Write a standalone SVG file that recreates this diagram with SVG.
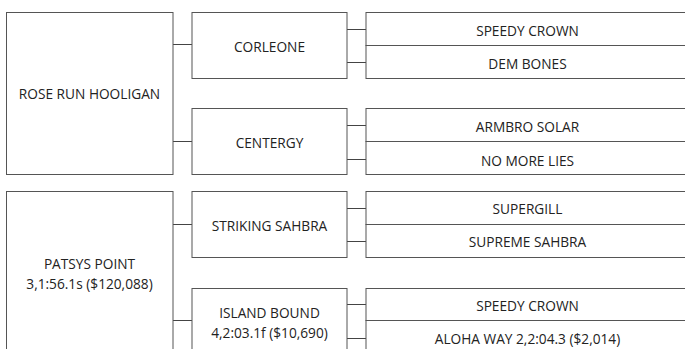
<svg xmlns="http://www.w3.org/2000/svg" width="685" height="349" viewBox="0 0 685 349">
<style>
.b{fill:#fff;stroke:#555;stroke-width:1}
.c line{stroke:#444;stroke-width:1}
text{font-family:"Open Sans","Noto Sans","Liberation Sans",sans-serif;font-size:13.7px;fill:#222;text-anchor:middle}
</style>
<rect width="685" height="349" fill="#fff"/>
<g class="c" id="connectors">
<line x1="173" y1="44.5" x2="192" y2="44.5"/>
<line x1="173" y1="141.5" x2="192" y2="141.5"/>
<line x1="347" y1="29.5" x2="366" y2="29.5"/>
<line x1="347" y1="62.5" x2="366" y2="62.5"/>
<line x1="347" y1="125.5" x2="366" y2="125.5"/>
<line x1="347" y1="159.5" x2="366" y2="159.5"/>
<line x1="173" y1="224.5" x2="192" y2="224.5"/>
<line x1="173" y1="320.5" x2="192" y2="320.5"/>
<line x1="347" y1="208.5" x2="366" y2="208.5"/>
<line x1="347" y1="241.5" x2="366" y2="241.5"/>
<line x1="347" y1="304.5" x2="366" y2="304.5"/>
<line x1="347" y1="338.5" x2="366" y2="338.5"/>
</g>
<g id="rose-run-hooligan"><rect class="b" x="6.5" y="12.5" width="166.5" height="162"/><text x="89.5" y="99">ROSE RUN HOOLIGAN</text></g>
<g id="corleone"><rect class="b" x="192" y="12.5" width="155" height="66"/><text x="269.5" y="52">CORLEONE</text></g>
<g id="centergy"><rect class="b" x="192" y="108.5" width="155" height="66"/><text x="269.5" y="148">CENTERGY</text></g>
<g id="speedy-crown-1"><rect class="b" x="366" y="12.5" width="324" height="33"/><text x="527.5" y="35.5">SPEEDY CROWN</text></g>
<g id="dem-bones"><rect class="b" x="366" y="45.5" width="324" height="33"/><text x="527.5" y="68.5">DEM BONES</text></g>
<g id="armbro-solar"><rect class="b" x="366" y="108.5" width="324" height="33"/><text x="527.5" y="131.5">ARMBRO SOLAR</text></g>
<g id="no-more-lies"><rect class="b" x="366" y="141.5" width="324" height="33"/><text x="527.5" y="165.5">NO MORE LIES</text></g>
<g id="patsys-point"><rect class="b" x="6.5" y="191.5" width="166.5" height="165"/><text x="89.5" y="269.3">PATSYS POINT</text><text x="89.5" y="289">3,1:56.1s ($120,088)</text></g>
<g id="striking-sahbra"><rect class="b" x="192" y="191.5" width="155" height="66"/><text x="269.5" y="231">STRIKING SAHBRA</text></g>
<g id="island-bound"><rect class="b" x="192" y="288.5" width="155" height="66"/><text x="269.5" y="318.3">ISLAND BOUND</text><text x="269.5" y="338">4,2:03.1f ($10,690)</text></g>
<g id="supergill"><rect class="b" x="366" y="191.5" width="324" height="33"/><text x="527.5" y="213.5">SUPERGILL</text></g>
<g id="supreme-sahbra"><rect class="b" x="366" y="224.5" width="324" height="33"/><text x="527.5" y="247">SUPREME SAHBRA</text></g>
<g id="speedy-crown-2"><rect class="b" x="366" y="288.5" width="324" height="32"/><text x="527.5" y="310.5">SPEEDY CROWN</text></g>
<g id="aloha-way"><rect class="b" x="366" y="320.5" width="324" height="34"/><text x="527.5" y="344">ALOHA WAY 2,2:04.3 ($2,014)</text></g>
</svg>
